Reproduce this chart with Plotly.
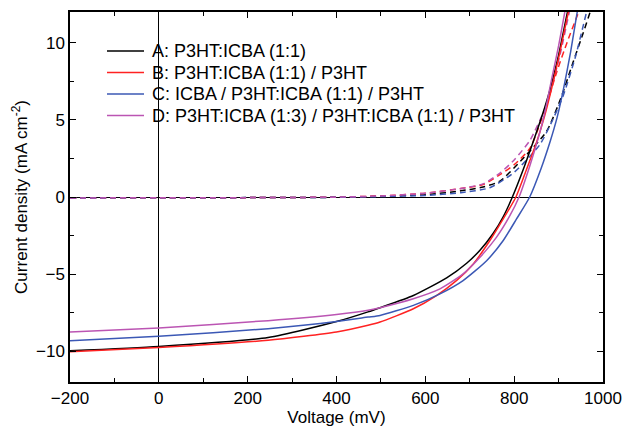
import plotly.graph_objects as go

# Light (illuminated) J-V curves, solid  (V in mV, J in mA cm^-2)
a_v = [-200, 0, 246, 400, 471, 498, 573, 648, 693, 723, 753, 775, 796, 820, 843, 862, 881, 900, 920, 928]
a_j = [-9.98, -9.70, -9.12, -8.08, -7.45, -7.18, -6.39, -5.25, -4.3, -3.45, -2.35, -1.3, 0.0, 1.75, 3.6, 5.2, 7.0, 9.2, 12.0, 13.0]

b_v = [-200, 0, 246, 400, 471, 498, 573, 625, 670, 708, 745, 775, 804, 828, 851, 868, 884, 903, 922, 930]
b_j = [-10.04, -9.76, -9.29, -8.75, -8.32, -8.11, -7.25, -6.39, -5.42, -4.34, -2.84, -1.44, 0.0, 1.8, 3.6, 5.2, 7.0, 9.4, 12.0, 13.0]

c_v = [-200, 0, 246, 400, 471, 498, 573, 633, 685, 738, 775, 805, 835, 860, 881, 897, 911, 927, 942, 950]
c_j = [-9.33, -9.03, -8.54, -8.08, -7.79, -7.68, -7.03, -6.28, -5.42, -4.13, -2.84, -1.44, 0.0, 1.8, 3.6, 5.2, 7.0, 9.4, 12.0, 13.2]

d_v = [-200, 0, 246, 400, 471, 498, 573, 633, 685, 723, 760, 790, 811, 835, 855, 870, 884, 900, 914, 922]
d_j = [-8.75, -8.49, -8.02, -7.62, -7.35, -7.18, -6.60, -5.96, -4.99, -3.91, -2.62, -1.23, 0.0, 2.0, 3.9, 5.6, 7.6, 9.8, 12.0, 13.2]

# Dark J-V curves, dashed
ad_v = [-200, 0, 200, 400, 500, 600, 680, 730, 768, 820, 873, 905, 933, 955, 971, 980]
ad_j = [-0.06, -0.05, -0.04, -0.02, 0.05, 0.15, 0.4, 0.65, 1.03, 2.5, 4.26, 6.4, 8.77, 10.6, 12.0, 12.9]

bd_v = [-200, 0, 200, 400, 500, 600, 680, 730, 768, 800, 836, 873, 896, 920, 945, 955]
bd_j = [-0.06, -0.05, -0.04, -0.01, 0.07, 0.25, 0.55, 0.81, 1.45, 2.1, 3.18, 6.0, 8.13, 10.1, 12.0, 12.9]

cd_v = [-200, 0, 200, 400, 500, 600, 680, 745, 800, 858, 885, 911, 938, 963, 972]
cd_j = [-0.06, -0.05, -0.04, -0.02, 0.03, 0.1, 0.28, 0.6, 1.6, 3.4, 4.9, 6.62, 9.1, 12.0, 13.0]

dd_v = [-200, 0, 200, 400, 500, 600, 680, 730, 768, 800, 836, 873, 903, 925, 932]
dd_j = [-0.06, -0.05, -0.04, -0.01, 0.07, 0.25, 0.55, 0.85, 1.55, 2.4, 3.7, 6.0, 9.2, 12.1, 13.0]

names = ["A: P3HT:ICBA (1:1)",
         "B: P3HT:ICBA (1:1) / P3HT",
         "C: ICBA / P3HT:ICBA (1:1) / P3HT",
         "D: P3HT:ICBA (1:3) / P3HT:ICBA (1:1) / P3HT"]
colors = ["#000000", "#ff2222", "#3b58b5", "#bb55b3"]

light = [(a_v, a_j), (b_v, b_j), (c_v, c_j), (d_v, d_j)]
dark = [(ad_v, ad_j), (bd_v, bd_j), (cd_v, cd_j), (dd_v, dd_j)]

fig = go.Figure()
for (v, j), col, nm in zip(dark, colors, names):
    fig.add_trace(go.Scatter(x=v, y=j, mode="lines", showlegend=False, name=nm + " (dark)",
                             line=dict(color=col, width=1.5, dash="6px,4px",
                                       shape="spline", smoothing=0.6)))
for (v, j), col, nm in zip(light, colors, names):
    fig.add_trace(go.Scatter(x=v, y=j, mode="lines", name=nm, showlegend=False,
                             line=dict(color=col, width=1.5,
                                       shape="spline", smoothing=0.6)))

axis_common = dict(showline=True, linecolor="black", linewidth=1.5, mirror="allticks",
                   ticks="inside", ticklen=6, tickwidth=1.2, tickcolor="black",
                   showgrid=False, zeroline=True, zerolinecolor="black", zerolinewidth=1.3,
                   automargin=False,
                   tickfont=dict(size=17, color="black"))

fig.update_xaxes(range=[-200, 1000], dtick=200, tick0=0,
                 minor=dict(dtick=100, ticks="inside", ticklen=4, tickcolor="black"),
                 title=dict(text="Voltage (mV)", font=dict(size=17, color="black"), standoff=3),
                 **axis_common)
fig.update_yaxes(range=[-12, 12], dtick=5, tick0=0,
                 minor=dict(dtick=2.5, ticks="inside", ticklen=4, tickcolor="black"),
                 title=dict(text="Current density (mA cm<sup>-2</sup>)", font=dict(size=17, color="black"), standoff=4),
                 **axis_common)

# Legend drawn as text + sample lines (paper coordinates)
plot_l, plot_r, plot_t, plot_b = 70, 603, 12, 382
row_px = [51, 72.5, 94, 115.5]
for nm, col, ypx in zip(names, colors, row_px):
    yp = (plot_b - ypx) / (plot_b - plot_t)
    fig.add_shape(type="line", xref="paper", yref="paper",
                  x0=(107 - plot_l) / (plot_r - plot_l), x1=(144 - plot_l) / (plot_r - plot_l),
                  y0=yp, y1=yp, line=dict(color=col, width=1.5))
    fig.add_annotation(text=nm, xref="paper", yref="paper",
                       x=(150 - plot_l) / (plot_r - plot_l), y=yp,
                       xanchor="left", yanchor="middle", showarrow=False,
                       font=dict(size=18, color="black"))

fig.update_layout(
    width=622, height=431,
    margin=dict(l=plot_l, r=622 - plot_r, t=plot_t, b=431 - plot_b),
    paper_bgcolor="white", plot_bgcolor="white",
    font=dict(family="Liberation Sans, Arial, sans-serif", color="black"),
    showlegend=False,
)

fig.write_html("out.html")
